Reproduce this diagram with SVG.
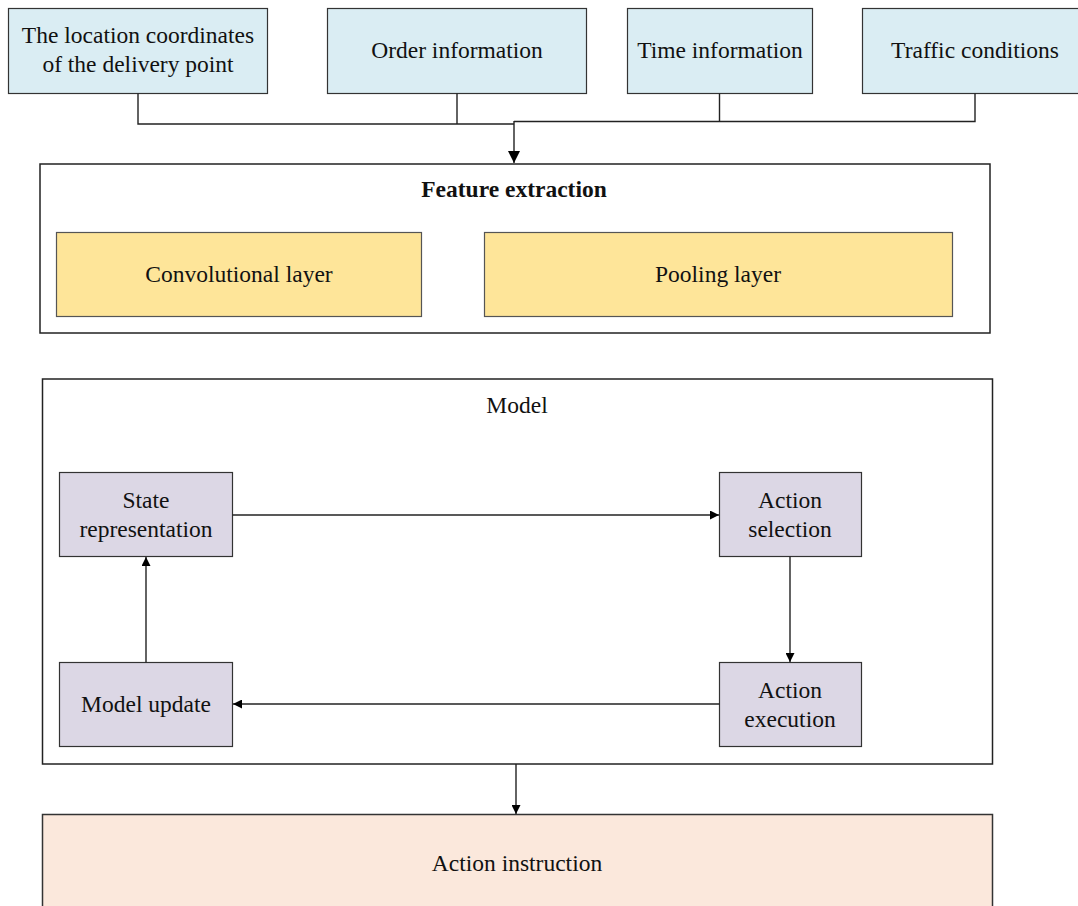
<svg xmlns="http://www.w3.org/2000/svg" width="1078" height="906" viewBox="0 0 1078 906">
<style>
text{font-family:"Liberation Serif","Times New Roman",serif;font-size:23.5px;fill:#111;text-anchor:middle}
.in{fill:#daedf3;stroke:#333;stroke-width:1.2}
.frame{fill:#fff;stroke:#222;stroke-width:1.5}
.y{fill:#fee599;stroke:#555;stroke-width:1.2}
.p{fill:#dcd7e5;stroke:#333;stroke-width:1.2}
.o{fill:#fbe8dc;stroke:#333;stroke-width:1.5}
.c{fill:none;stroke:#222;stroke-width:1.4}
</style>
<defs>
<marker id="ah" viewBox="0 0 10 10" refX="10" refY="5" markerWidth="9" markerHeight="9" markerUnits="userSpaceOnUse" orient="auto">
<path d="M0,0 L10,5 L0,10 Z" fill="#000"/>
</marker>
<marker id="ah2" viewBox="0 0 10 10" refX="10" refY="5" markerWidth="12" markerHeight="12" markerUnits="userSpaceOnUse" orient="auto">
<path d="M0,0 L10,5 L0,10 Z" fill="#000"/>
</marker>
</defs>
<g id="n-location"><rect class="in" x="8.5" y="8.5" width="259" height="85"/><text x="138" y="43">The location coordinates</text><text x="138" y="72">of the delivery point</text></g>
<g id="n-order"><rect class="in" x="327.5" y="8.5" width="259" height="85"/><text x="457" y="58">Order information</text></g>
<g id="n-time"><rect class="in" x="627.5" y="8.5" width="185" height="85"/><text x="720" y="58">Time information</text></g>
<g id="n-traffic"><rect class="in" x="862.5" y="8.5" width="220" height="85"/><text x="975" y="58">Traffic conditions</text></g>
<g id="n-feature"><rect class="frame" x="40" y="164" width="950" height="169"/><text x="514" y="197" font-weight="bold">Feature extraction</text></g>
<g id="n-conv"><rect class="y" x="56.5" y="232.5" width="365" height="84"/><text x="239" y="282">Convolutional layer</text></g>
<g id="n-pool"><rect class="y" x="484.5" y="232.5" width="468" height="84"/><text x="718" y="282">Pooling layer</text></g>
<g id="n-model"><rect class="frame" x="42.5" y="379" width="950" height="385"/><text x="517" y="413">Model</text></g>
<g id="n-state"><rect class="p" x="59.5" y="472.5" width="173" height="84"/><text x="146" y="508">State</text><text x="146" y="537">representation</text></g>
<g id="n-select"><rect class="p" x="719.5" y="472.5" width="142" height="84"/><text x="790" y="508">Action</text><text x="790" y="537">selection</text></g>
<g id="n-update"><rect class="p" x="59.5" y="662.5" width="173" height="84"/><text x="146" y="712">Model update</text></g>
<g id="n-exec"><rect class="p" x="719.5" y="662.5" width="142" height="84"/><text x="790" y="698">Action</text><text x="790" y="727">execution</text></g>
<g id="n-instr"><rect class="o" x="42.5" y="814.5" width="950" height="100"/><text x="517" y="871">Action instruction</text></g>
<g id="connectors">
<polyline class="c" points="138,93.5 138,124 514,124"/>
<line class="c" x1="457" y1="93.5" x2="457" y2="124"/>
<polyline class="c" points="514,121.5 975,121.5 975,93.5"/>
<line class="c" x1="719.5" y1="93.5" x2="719.5" y2="121.5"/>
<line class="c" x1="514" y1="121" x2="514" y2="163" stroke-width="1.8" marker-end="url(#ah2)"/>
<line class="c" x1="232.5" y1="515" x2="719" y2="515" marker-end="url(#ah)"/>
<line class="c" x1="790" y1="556.5" x2="790" y2="662" marker-end="url(#ah)"/>
<line class="c" x1="719.5" y1="704" x2="233" y2="704" marker-end="url(#ah)"/>
<line class="c" x1="146" y1="662.5" x2="146" y2="557" marker-end="url(#ah)"/>
<line class="c" x1="516" y1="764" x2="516" y2="814" marker-end="url(#ah)"/>
</g>
</svg>
